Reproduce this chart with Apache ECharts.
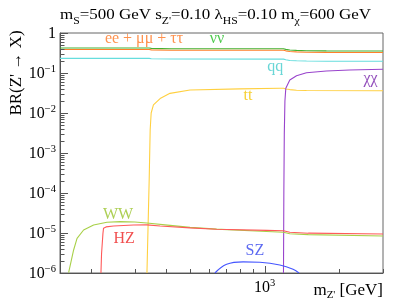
<!DOCTYPE html>
<html><head><meta charset="utf-8">
<script src="https://cdn.jsdelivr.net/npm/echarts@6/dist/echarts.min.js"></script>
<style>html,body{margin:0;padding:0;background:#fff}#c{width:399px;height:307px}</style>
</head><body><div id="c"></div>
<script>
// ---- tick values ----
const xTicksMajor = [1000];
const xTicksMinor = [200, 300, 400, 500, 600, 700, 800, 900, 2000, 3000];
const yTicksMajor = [1e-6, 1e-5, 1e-4, 1e-3, 1e-2, 1e-1, 1];
const yMinorMult = [2, 3, 4, 5, 6, 7, 8, 9];
const yDecades = [1e-6, 1e-5, 1e-4, 1e-3, 1e-2, 1e-1];

// ---- series data (mZ' in GeV, BR) ----
const mLep = [150, 343, 350, 420, 1192, 1218, 1264, 1345, 1475, 1775, 3000];
const brNuNu = [0.42, 0.42, 0.412, 0.405, 0.405, 0.39, 0.375, 0.367, 0.36, 0.357, 0.355];
const brLL   = [0.387, 0.387, 0.379, 0.372, 0.372, 0.358, 0.345, 0.337, 0.331, 0.328, 0.326];
const brQQ   = [0.232, 0.232, 0.228, 0.223, 0.222, 0.214, 0.206, 0.202, 0.199, 0.197, 0.196];

const mTT  = [336, 343, 346.2, 349.4, 356.8, 379.6, 416, 501, 796, 1152, 1192, 1218, 1264, 1345, 1475, 3000];
const brTT = [1e-6, 2.1e-4, 3.8e-3, 1.0e-2, 1.6e-2, 2.3e-2, 3.1e-2, 3.76e-2, 4.0e-2, 4.14e-2, 4.15e-2, 0.040, 0.0385, 0.0372, 0.0365, 0.036];

const mXX  = [1192, 1196, 1201, 1208, 1218, 1264, 1345, 1475, 1775, 2201, 3000];
const brXX = [1e-6, 1e-4, 3e-3, 0.02, 0.0414, 0.0668, 0.0856, 0.1017, 0.112, 0.119, 0.1238];

const mWW  = [162.5, 170.2, 175.7, 186.7, 204.8, 231.8, 262, 300, 335.7, 416.4, 501, 641, 1019, 1192, 1264, 1500, 3000];
const brWW = [1.02e-6, 3.76e-6, 7.37e-6, 1.19e-5, 1.58e-5, 1.85e-5, 1.92e-5, 1.88e-5, 1.78e-5, 1.55e-5, 1.38e-5, 1.25e-5, 1.09e-5, 1.04e-5, 9.6e-6, 9.1e-6, 8.4e-6];

const mHZ  = [219.3, 220.5, 223.4, 224.6, 230, 246.5, 296.6, 335.7, 379.6, 501, 641, 1019, 1192, 1264, 1500, 3000];
const brHZ = [1e-6, 3e-6, 9.8e-6, 1.31e-5, 1.42e-5, 1.5e-5, 1.58e-5, 1.6e-5, 1.5e-5, 1.34e-5, 1.24e-5, 1.16e-5, 1.14e-5, 1.04e-5, 9.9e-6, 9.4e-6];

const mSZ  = [631, 703.6, 820, 957, 1152, 1303, 1377];
const brSZ = [1e-6, 1.65e-6, 1.9e-6, 1.85e-6, 1.58e-6, 1.24e-6, 1e-6];

// ---- curve label annotations (text, mZ', BR) ----
const labelText = ['ee + μμ + ττ', 'νν', 'qq', 'χχ', 'tt', 'WW', 'HZ', 'SZ'];
const labelM    = [327, 643, 1105, 2673, 857, 257, 272, 914];
const labelBR   = [0.696, 0.708, 0.141, 0.0708, 0.0271, 2.93e-5, 7.37e-6, 3.61e-6];

// ---- styles ----
const labelColors = ['#ff7722', '#22bb22', '#44cccc', '#7722aa', '#f5c400', '#99c32a', '#ee2222', '#3344ee'];
const FONT = '"Liberation Serif", "DejaVu Serif", serif';
const TICK_COLOR = '#555';

const yTicksMinor = [];
yDecades.forEach(d => yMinorMult.forEach(k => yTicksMinor.push(k * d)));

const zip = (a, b) => a.map((v, i) => [v, b[i]]);

function lineSeries(name, m, br, color, width) {
  return {
    name, type: 'line', xAxisIndex: 0, yAxisIndex: 0,
    data: zip(m, br), symbol: 'none', showSymbol: false, clip: true,
    lineStyle: { color, width: width || 1.1 }, silent: true,
    emphasis: { disabled: true }, animation: false
  };
}

// ticks drawn through the axis scales (inside the frame, ROOT style)
function tickSeries(data, dir, len) {
  return {
    type: 'custom', xAxisIndex: 0, yAxisIndex: 0, silent: true, clip: false, z: 5,
    data,
    renderItem: (params, api) => {
      const p = api.coord([api.value(0), api.value(1)]);
      let shape;
      if (dir === 'x') {
        const x = Math.round(p[0]) + 0.5;
        shape = { x1: x, y1: p[1], x2: x, y2: p[1] - len };
      } else {
        const y = Math.round(p[1]) + 0.5;
        shape = { x1: p[0], y1: y, x2: p[0] + len, y2: y };
      }
      return { type: 'line', shape, style: { stroke: TICK_COLOR, lineWidth: 1 } };
    }
  };
}

const tickStyle = { color: TICK_COLOR, width: 1 };
const supRich = {
  n: { fontFamily: FONT, fontSize: 16, color: '#000', lineHeight: 18, padding: [2, 0, 0, 0], verticalAlign: 'top' },
  p: { fontFamily: FONT, fontSize: 10.5, color: '#000', lineHeight: 12, verticalAlign: 'top' }
};

const option = {
  animation: false,
  grid: { left: 60, right: 16, top: 33, bottom: 34, show: true, borderColor: '#666', borderWidth: 1 },
  title: [
    {
      right: 16, top: 282, padding: 0,
      text: '{n|m}{s|Z\'}{n| [GeV]}',
      textStyle: { fontWeight: 'normal', rich: {
        n: { fontFamily: FONT, fontSize: 17, fontWeight: 'normal', color: '#000', lineHeight: 18, verticalAlign: 'top' },
        s: { fontFamily: FONT, fontSize: 11, fontWeight: 'normal', color: '#000', lineHeight: 12, padding: [8, 0, 0, 0], verticalAlign: 'top' }
      } }
    }
  ],
  graphic: [
    {
      type: 'text', x: 60, y: 8, scaleX: 1.17, silent: true,
      style: {
        text: '{n|m}{s|S}{n|=500 GeV s}{s|Z\'}{n|=0.10 λ}{s|HS}{n|=0.10 m}{s|χ}{n|=600 GeV}',
        fill: '#000', align: 'left', verticalAlign: 'top',
        rich: {
          n: { fontFamily: FONT, fontSize: 14.5, fill: '#000', lineHeight: 18, verticalAlign: 'top' },
          s: { fontFamily: FONT, fontSize: 10, fill: '#000', lineHeight: 12, padding: [8, 0, 0, 0], verticalAlign: 'top' }
        }
      }
    },
    {
      type: 'text', x: 17, y: 73, rotation: Math.PI / 2, silent: true,
      style: { text: 'BR(Z\' → X)', font: '17px ' + FONT, fill: '#000', align: 'center', verticalAlign: 'middle' }
    }
  ],
  xAxis: [
    {
      type: 'log', min: 150, max: 3000, position: 'bottom',
      axisLine: { show: true, lineStyle: tickStyle },
      axisTick: { show: false },
      axisLabel: { show: true, customValues: xTicksMajor, margin: 5,
        formatter: v => '{n|10}{p|' + Math.round(Math.log10(v)) + '}', rich: supRich },
      splitLine: { show: false }
    }
  ],
  yAxis: [
    {
      type: 'log', min: 1e-6, max: 1, position: 'left',
      axisLine: { show: true, lineStyle: tickStyle },
      axisTick: { show: false },
      axisLabel: { show: true, customValues: yTicksMajor, margin: 4,
        formatter: v => {
          const e = Math.round(Math.log10(v));
          return e === 0 ? '{n|1}' : '{n|10}{p|−' + (-e) + '}';
        }, rich: supRich },
      splitLine: { show: false }
    }
  ],
  series: [
    lineSeries('ll', mLep, brLL, '#ff7f2a'),
    lineSeries('nunu', mLep, brNuNu, '#44b030'),
    lineSeries('qq', mLep, brQQ, '#66dddd'),
    lineSeries('tt', mTT, brTT, '#ffd040'),
    lineSeries('chichi', mXX, brXX, '#9944cc'),
    lineSeries('WW', mWW, brWW, '#a8d048'),
    lineSeries('HZ', mHZ, brHZ, '#ff5a5a'),
    Object.assign(lineSeries('SZ', mSZ, brSZ, '#4455ff'), { smooth: 0.4 }),
    tickSeries(xTicksMajor.map(v => [v, 1e-6]), 'x', 7),
    tickSeries(xTicksMinor.map(v => [v, 1e-6]), 'x', 4),
    tickSeries(yTicksMajor.map(v => [150, v]), 'y', 8),
    tickSeries(yTicksMinor.map(v => [150, v]), 'y', 4.5),
    {
      type: 'scatter', xAxisIndex: 0, yAxisIndex: 0, symbolSize: 0, silent: true,
      data: labelText.map((t, i) => ({
        value: [labelM[i], labelBR[i]],
        label: { show: true, position: 'inside', formatter: t, color: labelColors[i],
          fontFamily: FONT, fontSize: 16 }
      }))
    }
  ]
};

const chart = echarts.init(document.getElementById('c'), null, { renderer: 'canvas' });
chart.setOption(option);
</script>
</body></html>
